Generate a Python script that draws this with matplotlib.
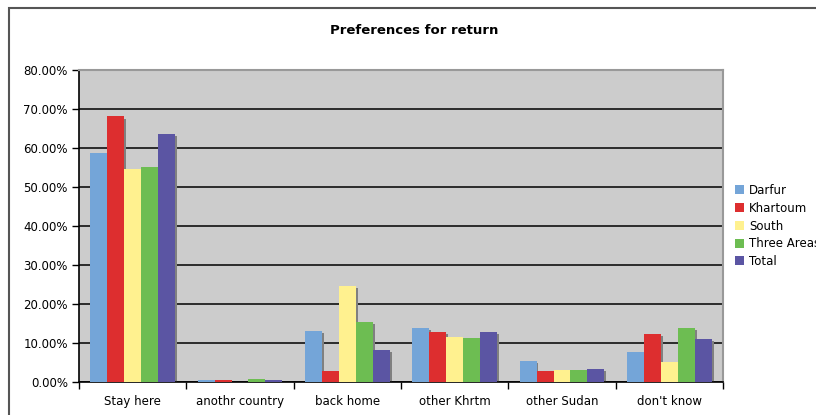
import matplotlib.pyplot as plt
import numpy as np
from matplotlib.patches import Rectangle

categories = ["Stay here", "anothr country", "back home", "other Khrtm", "other Sudan", "don't know"]
series = ["Darfur", "Khartoum", "South", "Three Areas", "Total"]
darfur = [0.586, 0.005, 0.131, 0.139, 0.054, 0.077]
khartoum = [0.681, 0.005, 0.028, 0.128, 0.028, 0.123]
south = [0.547, 0.0, 0.247, 0.116, 0.031, 0.051]
three_areas = [0.550, 0.008, 0.154, 0.113, 0.031, 0.139]
total = [0.637, 0.005, 0.082, 0.128, 0.034, 0.110]
colors = ['#74A5D8', '#DD2E2F', '#FFF18F', '#6DBD52', '#5B55A3']

values = [darfur, khartoum, south, three_areas, total]

fig = plt.figure(figsize=(8.16, 4.15), dpi=100)
ax = fig.add_axes([79 / 816, 33 / 415, 644 / 816, 312 / 415])
ax.set_facecolor('#CCCCCC')

x = np.arange(len(categories)) + 0.5
w = 0.158
for j, (name, vals) in enumerate(zip(series, values)):
    pos = x + (j - 2) * w
    vals = np.array(vals)
    # shadow
    ax.bar(pos + 0.018, np.maximum(vals - 0.006, 0), width=w, color='#808080',
           zorder=2, linewidth=0)
for j, (name, vals) in enumerate(zip(series, values)):
    pos = x + (j - 2) * w
    ax.bar(pos, vals, width=w, color=colors[j], label=name, zorder=3, linewidth=0)

ax.set_xlim(0, 6)
ax.set_ylim(0, 0.8)
ax.set_yticks(np.arange(0, 0.81, 0.1))
ax.set_yticklabels(['%.2f%%' % (v * 100) for v in np.arange(0, 0.81, 0.1)], fontsize=8.5)
ax.yaxis.grid(True, color='black', linewidth=1.1, zorder=1)
ax.set_axisbelow(True)
ax.set_xticks(np.arange(0, 7))
ax.set_xticklabels([])
ax.set_xticks(x, minor=True)
ax.set_xticklabels(categories, minor=True, fontsize=8.5)
ax.tick_params(axis='x', which='minor', length=0, pad=9)
ax.tick_params(axis='x', which='major', length=5, width=1, direction='out')
ax.tick_params(axis='y', length=5, width=1, direction='out', pad=3)
for s in ['left', 'bottom']:
    ax.spines[s].set_color('black')
    ax.spines[s].set_linewidth(1.2)
for s in ['top', 'right']:
    ax.spines[s].set_color('#999999')
    ax.spines[s].set_linewidth(1.5)

fig.text(0.507, 1 - 30 / 415, "Preferences for return", ha='center', va='center',
         fontsize=9.5, fontweight='bold')

ax.legend(loc='center left', bbox_to_anchor=(735 / 816, 1 - 226 / 415),
          bbox_transform=fig.transFigure, frameon=False, fontsize=8.5,
          handlelength=0.8, handleheight=0.8, handletextpad=0.4, labelspacing=0.4,
          borderaxespad=0, borderpad=0)

# outer chart border
fig.patches.append(Rectangle((9 / 816, -0.1), 1.2, 1 - 8 / 415 + 0.1, transform=fig.transFigure,
                             fill=False, edgecolor='#555555', linewidth=1.5, clip_on=False))

fig.savefig('out.png', dpi=100)
